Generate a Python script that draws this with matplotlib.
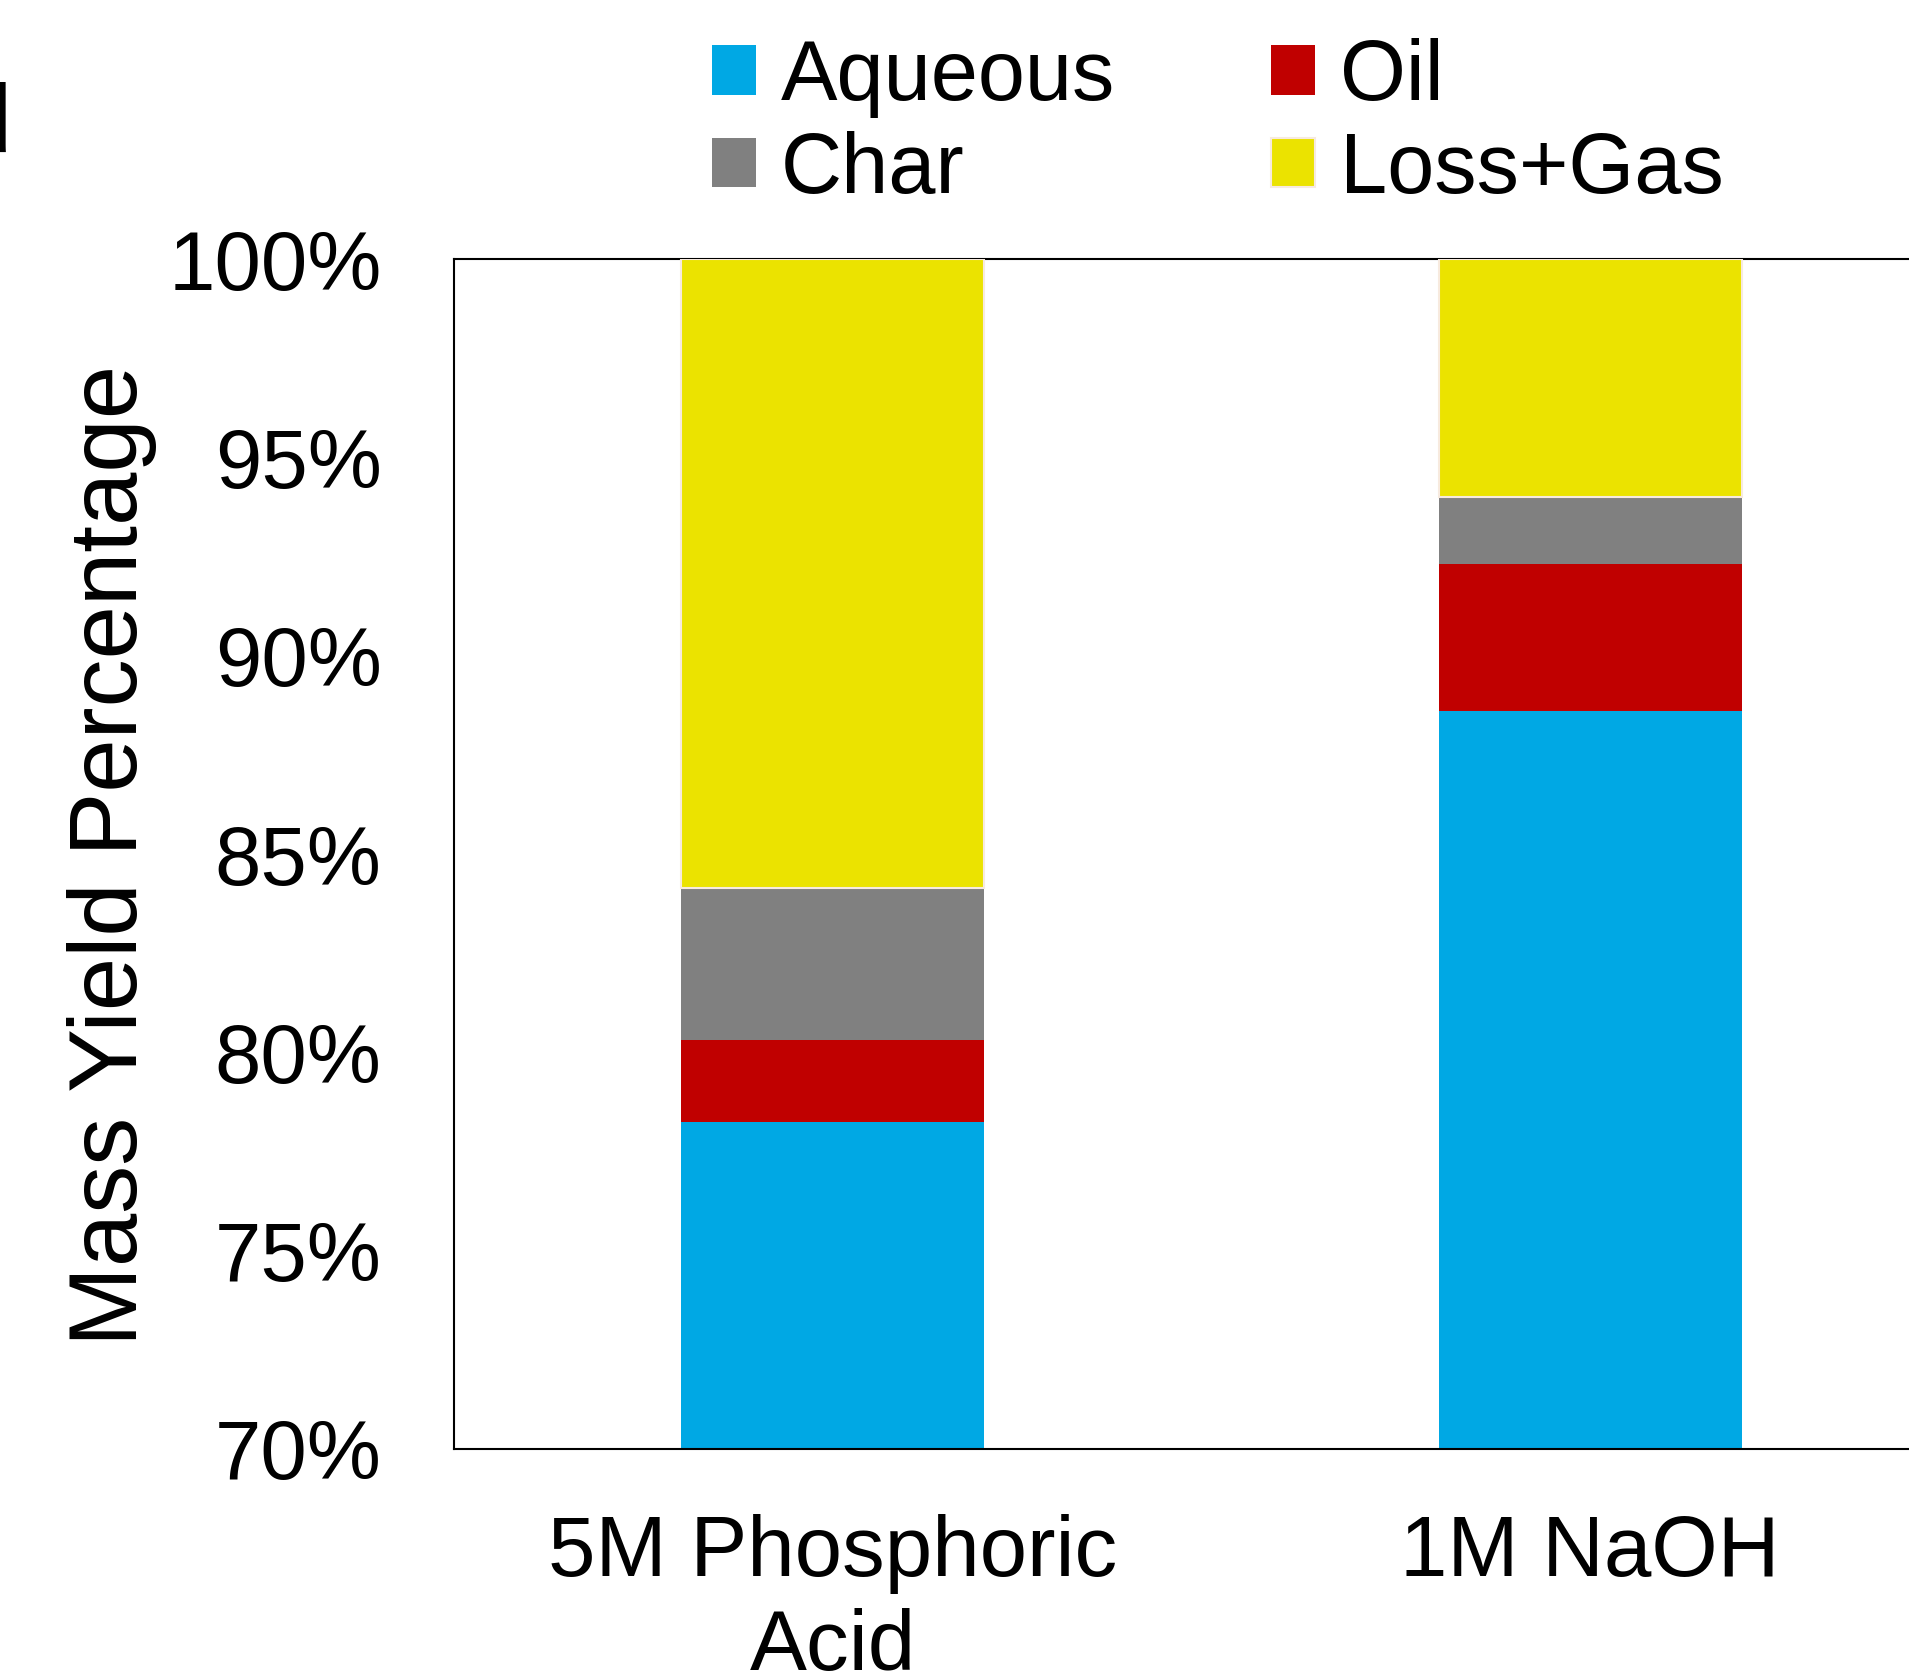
import matplotlib
matplotlib.use("Agg")
import matplotlib.pyplot as plt
import numpy as np

# Product distribution (mass yield, %) for the two treatments
categories = ["5M Phosphoric\nAcid", "1M NaOH"]
aqueous = [78.25, 88.6]
oil = [2.05, 3.7]
char = [3.85, 1.7]
loss_gas = [15.85, 6.0]

y_ticks = [70, 75, 80, 85, 90, 95, 100]

plt.rcParams["font.family"] = ["Liberation Sans", "DejaVu Sans"]

fig = plt.figure(figsize=(19.09, 16.78), dpi=100)
# the plot area runs past the right edge of the canvas
ax = fig.add_axes([0.2378, 0.1365, 0.7936, 0.7091])

series = [
    ("Aqueous", aqueous, "#00A8E4", "none", 0),
    ("Oil", oil, "#C00000", "none", 0),
    ("Char", char, "#808080", "none", 0),
    ("Loss+Gas", loss_gas, "#EBE300", "#F7EADF", 1.5),
]

x = np.arange(len(categories))
bottom = np.zeros(len(categories))
handles = {}
for name, vals, color, edge, lw in series:
    bars = ax.bar(x, vals, width=0.4, bottom=bottom, color=color,
                  edgecolor=edge, linewidth=lw, zorder=3, label=name)
    handles[name] = bars
    bottom += np.array(vals)

ax.set_xlim(-0.5, 1.5)
ax.set_ylim(70, 100)
ax.set_yticks(y_ticks)
ax.set_yticklabels([f"{t}%" for t in y_ticks])
ax.set_xticks(x)
ax.set_xticklabels(categories, linespacing=1.22)
ax.tick_params(axis="y", length=0, pad=52, labelsize=60)
ax.tick_params(axis="x", length=0, pad=47, labelsize=61.5)

for side in ["left", "top", "bottom"]:
    ax.spines[side].set_linewidth(1.5)
    ax.spines[side].set_color("black")
ax.spines["right"].set_visible(False)
ax.spines["top"].set_zorder(2)
ax.spines["bottom"].set_zorder(4)

fig.text(112 / 1909, 1 - 855 / 1678, "Mass Yield Percentage", rotation=90,
         ha="center", va="center", fontsize=69)

order = ["Aqueous", "Char", "Oil", "Loss+Gas"]
ax.legend([handles[n] for n in order], order, ncol=2, frameon=False,
          loc="upper left", bbox_to_anchor=(712 / 1909, 1 - 38 / 1678),
          bbox_transform=fig.transFigure, fontsize=61,
          handlelength=0.52, handleheight=0.52, handletextpad=0.29,
          columnspacing=1.84, labelspacing=0.15, borderpad=0,
          borderaxespad=0)

# fragments of neighbouring panel text along the left edge
fig.text(12 / 1909, 1 - 152 / 1678, "d", ha="right", va="baseline", fontsize=70)
fig.text(6 / 1909, 1 - 470 / 1678, ",", ha="right", va="baseline", fontsize=70)

fig.savefig("out.png", dpi=100)
